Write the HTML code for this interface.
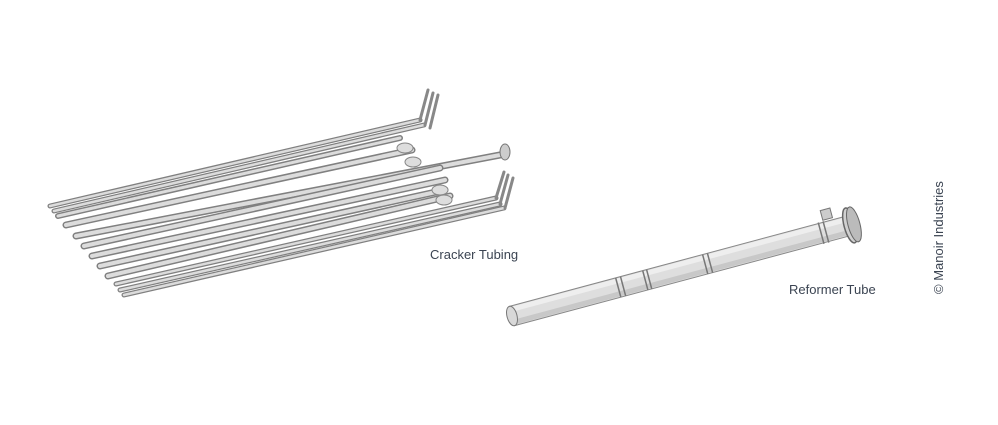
<!DOCTYPE html>
<html><head><meta charset="utf-8"><style>
html,body{margin:0;padding:0;background:#fff;}
body{width:998px;height:425px;overflow:hidden;position:relative;font-family:"Liberation Sans",sans-serif;}
.t{position:absolute;color:#3b4452;font-size:13px;}
</style></head><body>
<svg width="998" height="425" style="position:absolute;left:0;top:0">
<g stroke-linecap="round">
<g id="tubes">
<line x1="50" y1="206" x2="420" y2="120" stroke="#808080" stroke-width="5"/>
<line x1="50" y1="206" x2="420" y2="120" stroke="#dcdcdc" stroke-width="2.5"/>
<line x1="54" y1="211" x2="424" y2="125" stroke="#808080" stroke-width="5"/>
<line x1="54" y1="211" x2="424" y2="125" stroke="#dcdcdc" stroke-width="2.5"/>
<line x1="58" y1="216" x2="400" y2="138" stroke="#808080" stroke-width="6"/>
<line x1="58" y1="216" x2="400" y2="138" stroke="#dcdcdc" stroke-width="3"/>
<line x1="66" y1="225" x2="412" y2="150" stroke="#808080" stroke-width="7"/>
<line x1="66" y1="225" x2="412" y2="150" stroke="#dcdcdc" stroke-width="4"/>
<line x1="76" y1="236" x2="500" y2="155" stroke="#808080" stroke-width="7"/>
<line x1="76" y1="236" x2="500" y2="155" stroke="#dcdcdc" stroke-width="4"/>
<line x1="84" y1="246" x2="440" y2="168" stroke="#808080" stroke-width="7"/>
<line x1="84" y1="246" x2="440" y2="168" stroke="#dcdcdc" stroke-width="4"/>
<line x1="92" y1="256" x2="445" y2="180" stroke="#808080" stroke-width="7"/>
<line x1="92" y1="256" x2="445" y2="180" stroke="#dcdcdc" stroke-width="4"/>
<line x1="100" y1="266" x2="445" y2="190" stroke="#808080" stroke-width="7"/>
<line x1="100" y1="266" x2="445" y2="190" stroke="#dcdcdc" stroke-width="4"/>
<line x1="108" y1="276" x2="450" y2="196" stroke="#808080" stroke-width="7"/>
<line x1="108" y1="276" x2="450" y2="196" stroke="#dcdcdc" stroke-width="4"/>
<line x1="116" y1="284" x2="496" y2="198" stroke="#808080" stroke-width="5"/>
<line x1="116" y1="284" x2="496" y2="198" stroke="#dcdcdc" stroke-width="2.5"/>
<line x1="120" y1="290" x2="500" y2="204" stroke="#808080" stroke-width="5"/>
<line x1="120" y1="290" x2="500" y2="204" stroke="#dcdcdc" stroke-width="2.5"/>
<line x1="124" y1="295" x2="504" y2="208" stroke="#808080" stroke-width="5"/>
<line x1="124" y1="295" x2="504" y2="208" stroke="#dcdcdc" stroke-width="2.5"/>
</g>
<g stroke="#888" stroke-width="3">
<line x1="420" y1="120" x2="428" y2="90"/><line x1="425" y1="125" x2="433" y2="93"/><line x1="430" y1="128" x2="438" y2="95"/>
<line x1="496" y1="198" x2="504" y2="172"/><line x1="500" y1="204" x2="508" y2="175"/><line x1="505" y1="208" x2="513" y2="178"/>
</g>
<ellipse cx="505" cy="152" rx="5" ry="8" fill="#ccc" stroke="#777"/>
<ellipse cx="405" cy="148" rx="8" ry="5" fill="#ddd" stroke="#888"/>
<ellipse cx="413" cy="162" rx="8" ry="5" fill="#ddd" stroke="#888"/>
<ellipse cx="440" cy="190" rx="8" ry="5" fill="#ddd" stroke="#888"/>
<ellipse cx="444" cy="200" rx="8" ry="5" fill="#ddd" stroke="#888"/>
</g>
<g transform="translate(512,316) rotate(-15)">
<rect x="0" y="-10" width="350" height="20" fill="#dedede" stroke="#888" stroke-width="1"/>
<rect x="0" y="-9" width="350" height="5" fill="#eeeeee"/>
<rect x="0" y="4" width="350" height="5" fill="#c8c8c8"/>
<g stroke="#777" stroke-width="1.5">
<line x1="110" y1="-10" x2="110" y2="10"/><line x1="115" y1="-10" x2="115" y2="10"/>
<line x1="138" y1="-10" x2="138" y2="10"/><line x1="142" y1="-10" x2="142" y2="10"/>
<line x1="200" y1="-10" x2="200" y2="10"/><line x1="205" y1="-10" x2="205" y2="10"/>
<line x1="320" y1="-11" x2="320" y2="11"/><line x1="325" y1="-11" x2="325" y2="11"/>
</g>
<ellipse cx="0" cy="0" rx="5" ry="10" fill="#d8d8d8" stroke="#777"/>
<ellipse cx="350" cy="0" rx="6" ry="18" fill="#d0d0d0" stroke="#666" stroke-width="1.5"/>
<ellipse cx="354" cy="0" rx="6" ry="18" fill="#bbb" stroke="#666"/>
<rect x="325" y="-22" width="10" height="10" fill="#ccc" stroke="#777"/>
</g>
</svg>
<div class="t" style="left:430px;top:247px;">Cracker Tubing</div>
<div class="t" style="left:789px;top:282px;">Reformer Tube</div>
<div class="t" style="left:931px;top:294px;transform-origin:0 0;transform:rotate(-90deg);white-space:nowrap;width:130px;">© Manoir Industries</div>
</body></html>
